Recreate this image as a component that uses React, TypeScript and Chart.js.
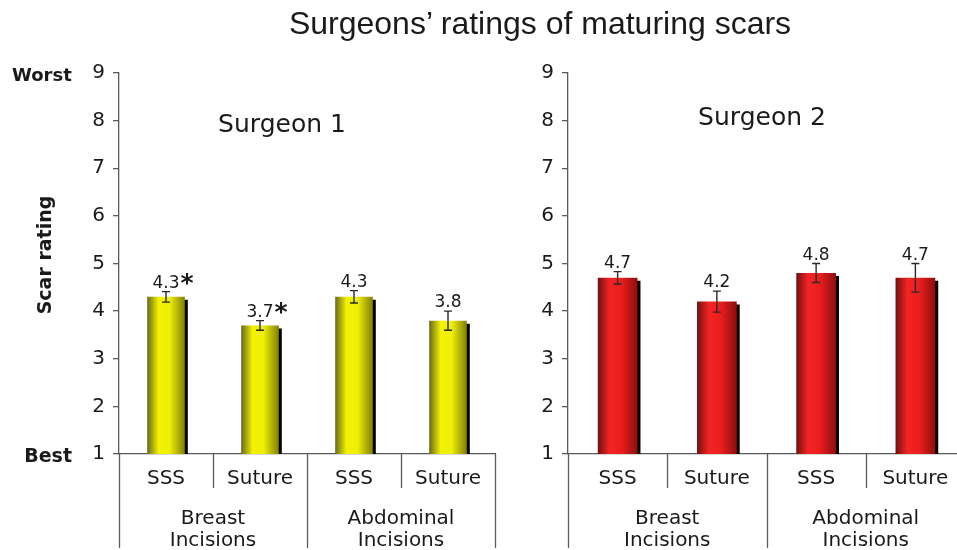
import React, { useEffect, useRef } from 'react';
import { Chart, registerables } from 'chart.js';

Chart.register(...registerables);

const categories = ['SSS', 'Suture', 'SSS', 'Suture'];
const groupLabels = [['Breast', 'Incisions'], ['Abdominal', 'Incisions']];
const yTickValues = [1, 2, 3, 4, 5, 6, 7, 8, 9];

const surgeon1Means = [4.3, 3.7, 4.3, 3.8];
const surgeon1Errors = [0.11, 0.1, 0.13, 0.2];
const surgeon1Marks = ['*', '*', '', ''];

const surgeon2Means = [4.7, 4.2, 4.8, 4.7];
const surgeon2Errors = [0.13, 0.22, 0.2, 0.3];
const surgeon2Marks = ['', '', '', ''];

const yellowStops = ['#6a6a0c', '#f2f200', '#eeee08', '#7e7e12'];
const redStops = ['#7a0c0c', '#f42424', '#ea1e1e', '#881010'];

const FONT = '"DejaVu Sans", Verdana, sans-serif';
const AXIS_COLOR = '#5a5a5a';
const TEXT_COLOR = '#1a1a1a';

type PanelProps = {
  left: number;
  width: number;
  yAxisWidth: number;
  padRight: number;
  means: number[];
  errors: number[];
  marks: string[];
  stops: string[];
};

function ChartPanel({ left, width, yAxisWidth, padRight, means, errors, marks, stops }: PanelProps) {
  const ref = useRef<HTMLCanvasElement | null>(null);

  useEffect(() => {
    const canvas = ref.current;
    if (!canvas) return;
    const barPct = 0.4;

    const shadowPlugin = {
      id: 'barShadow',
      beforeDatasetsDraw(chart: any) {
        const ctx = chart.ctx;
        ctx.save();
        ctx.shadowColor = '#000000';
        ctx.shadowOffsetX = 3;
        ctx.shadowOffsetY = 3;
        ctx.shadowBlur = 0;
      },
      afterDatasetsDraw(chart: any) {
        chart.ctx.restore();
      },
    };

    const overlayPlugin = {
      id: 'overlay',
      afterDraw(chart: any) {
        const ctx = chart.ctx;
        const xs = chart.scales.x;
        const ys = chart.scales.y;
        const meta = chart.getDatasetMeta(0);
        meta.data.forEach((el: any, i: number) => {
          const cx = el.x;
          const yTop = ys.getPixelForValue(means[i] + errors[i]);
          const yBot = ys.getPixelForValue(means[i] - errors[i]);
          ctx.save();
          ctx.strokeStyle = '#2a2a2a';
          ctx.lineWidth = 1.4;
          ctx.beginPath();
          ctx.moveTo(cx, yTop);
          ctx.lineTo(cx, yBot);
          ctx.moveTo(cx - 4, yTop);
          ctx.lineTo(cx + 4, yTop);
          ctx.moveTo(cx - 4, yBot);
          ctx.lineTo(cx + 4, yBot);
          ctx.stroke();
          const label = means[i].toFixed(1);
          ctx.font = `17px ${FONT}`;
          ctx.fillStyle = TEXT_COLOR;
          ctx.textAlign = 'center';
          ctx.textBaseline = 'alphabetic';
          const by = yTop - 4;
          ctx.fillText(label, cx, by);
          if (marks[i]) {
            const w = ctx.measureText(label).width;
            ctx.font = `bold 25px ${FONT}`;
            ctx.textAlign = 'left';
            ctx.fillText(marks[i], cx + w / 2 + 1, by + 3);
          }
          ctx.restore();
        });
        const n = categories.length;
        const step = xs.width / n;
        ctx.save();
        ctx.strokeStyle = AXIS_COLOR;
        ctx.lineWidth = 1.3;
        ctx.beginPath();
        for (let i = 0; i <= n; i++) {
          const x = Math.round(xs.left + i * step) + 0.5;
          const long = i % 2 === 0;
          ctx.moveTo(x, chart.chartArea.bottom);
          ctx.lineTo(x, long ? 548 : 488);
        }
        ctx.stroke();
        ctx.restore();
      },
    };

    const chart = new Chart(canvas, {
      type: 'bar',
      data: {
        labels: categories,
        datasets: [
          {
            data: means,
            xAxisID: 'x',
            yAxisID: 'y',
            clip: 0,
            categoryPercentage: 1,
            barPercentage: barPct,
            borderWidth: 0,
            backgroundColor: (c: any) => {
              const ch = c.chart;
              const xs = ch.scales?.x;
              if (!xs || c.dataIndex === undefined || !xs.width) return stops[1];
              const cx = xs.getPixelForValue(c.dataIndex);
              const w = (xs.width / categories.length) * barPct;
              const g = ch.ctx.createLinearGradient(cx - w / 2, 0, cx + w / 2, 0);
              g.addColorStop(0, stops[0]);
              g.addColorStop(0.3, stops[1]);
              g.addColorStop(0.6, stops[2]);
              g.addColorStop(1, stops[3]);
              return g;
            },
          } as any,
        ],
      },
      options: {
        animation: false,
        responsive: false,
        maintainAspectRatio: false,
        events: [],
        layout: { padding: { top: 73, right: padRight, bottom: 0, left: 0 } },
        plugins: { legend: { display: false }, tooltip: { enabled: false }, title: { display: false } },
        scales: {
          x: {
            type: 'category',
            position: 'bottom',
            offset: true,
            grid: { display: false },
            border: { display: true, color: AXIS_COLOR, width: 1.3 },
            ticks: { color: TEXT_COLOR, font: { family: FONT, size: 20 }, padding: 5, maxRotation: 0, autoSkip: false },
            afterFit: (s: any) => { s.height = 40; },
          },
          x2: {
            type: 'category',
            position: 'bottom',
            labels: groupLabels as any,
            offset: true,
            grid: { display: false },
            border: { display: false },
            ticks: { color: TEXT_COLOR, font: { family: FONT, size: 20, lineHeight: 1.1 }, padding: 6, maxRotation: 0, autoSkip: false },
            afterFit: (s: any) => { s.height = 56; },
          },
          y: {
            type: 'linear',
            min: 1,
            max: 9,
            afterBuildTicks: (s: any) => { s.ticks = yTickValues.map((v) => ({ value: v })); },
            grid: { display: true, drawOnChartArea: false, drawTicks: true, tickLength: 6, color: AXIS_COLOR, lineWidth: 1.3 },
            border: { display: true, color: AXIS_COLOR, width: 1.3 },
            ticks: { color: TEXT_COLOR, font: { family: FONT, size: 20 }, padding: 8 },
            afterFit: (s: any) => { s.width = yAxisWidth; },
          },
        },
      },
      plugins: [shadowPlugin, overlayPlugin],
    } as any);

    return () => chart.destroy();
  }, []);

  return (
    <canvas
      ref={ref}
      width={width}
      height={550}
      style={{ position: 'absolute', left, top: 0, width, height: 550 }}
    />
  );
}

function TextAt({ text, cx, cy, size, bold, family, align, rotate }: any) {
  const style: any = {
    position: 'absolute',
    top: cy - size * 0.5,
    fontSize: size,
    lineHeight: '1',
    fontFamily: family || FONT,
    fontWeight: bold ? 'bold' : 'normal',
    color: TEXT_COLOR,
    whiteSpace: 'nowrap',
  };
  if (rotate) {
    style.left = cx;
    style.top = cy;
    style.transform = 'translate(-50%, -50%) rotate(-90deg)';
  } else if (align === 'right') {
    style.right = 957 - cx;
  } else if (align === 'left') {
    style.left = cx;
  } else {
    style.left = cx;
    style.transform = 'translateX(-50%)';
  }
  return <div style={style}>{text}</div>;
}

export default function App() {
  return (
    <div
      style={{
        position: 'absolute',
        left: 0,
        top: 0,
        width: 957,
        height: 550,
        overflow: 'hidden',
        background: '#ffffff',
      }}
    >
      <ChartPanel left={0} width={500} yAxisWidth={119} padRight={5} means={surgeon1Means} errors={surgeon1Errors} marks={surgeon1Marks} stops={yellowStops} />
      <ChartPanel left={500} width={470} yAxisWidth={68} padRight={5} means={surgeon2Means} errors={surgeon2Errors} marks={surgeon2Marks} stops={redStops} />
      <TextAt text="Surgeons’ ratings of maturing scars" cx={540} cy={23} size={32} family='"Liberation Sans", Arial, sans-serif' />
      <TextAt text="Surgeon 1" cx={282} cy={123} size={25} />
      <TextAt text="Surgeon 2" cx={762} cy={116} size={25} />
      <TextAt text="Worst" cx={12} cy={75} size={18} bold align="left" />
      <TextAt text="Best" cx={72} cy={455} size={19} bold align="right" />
      <TextAt text="Scar rating" cx={44} cy={255} size={19} bold rotate />
    </div>
  );
}
